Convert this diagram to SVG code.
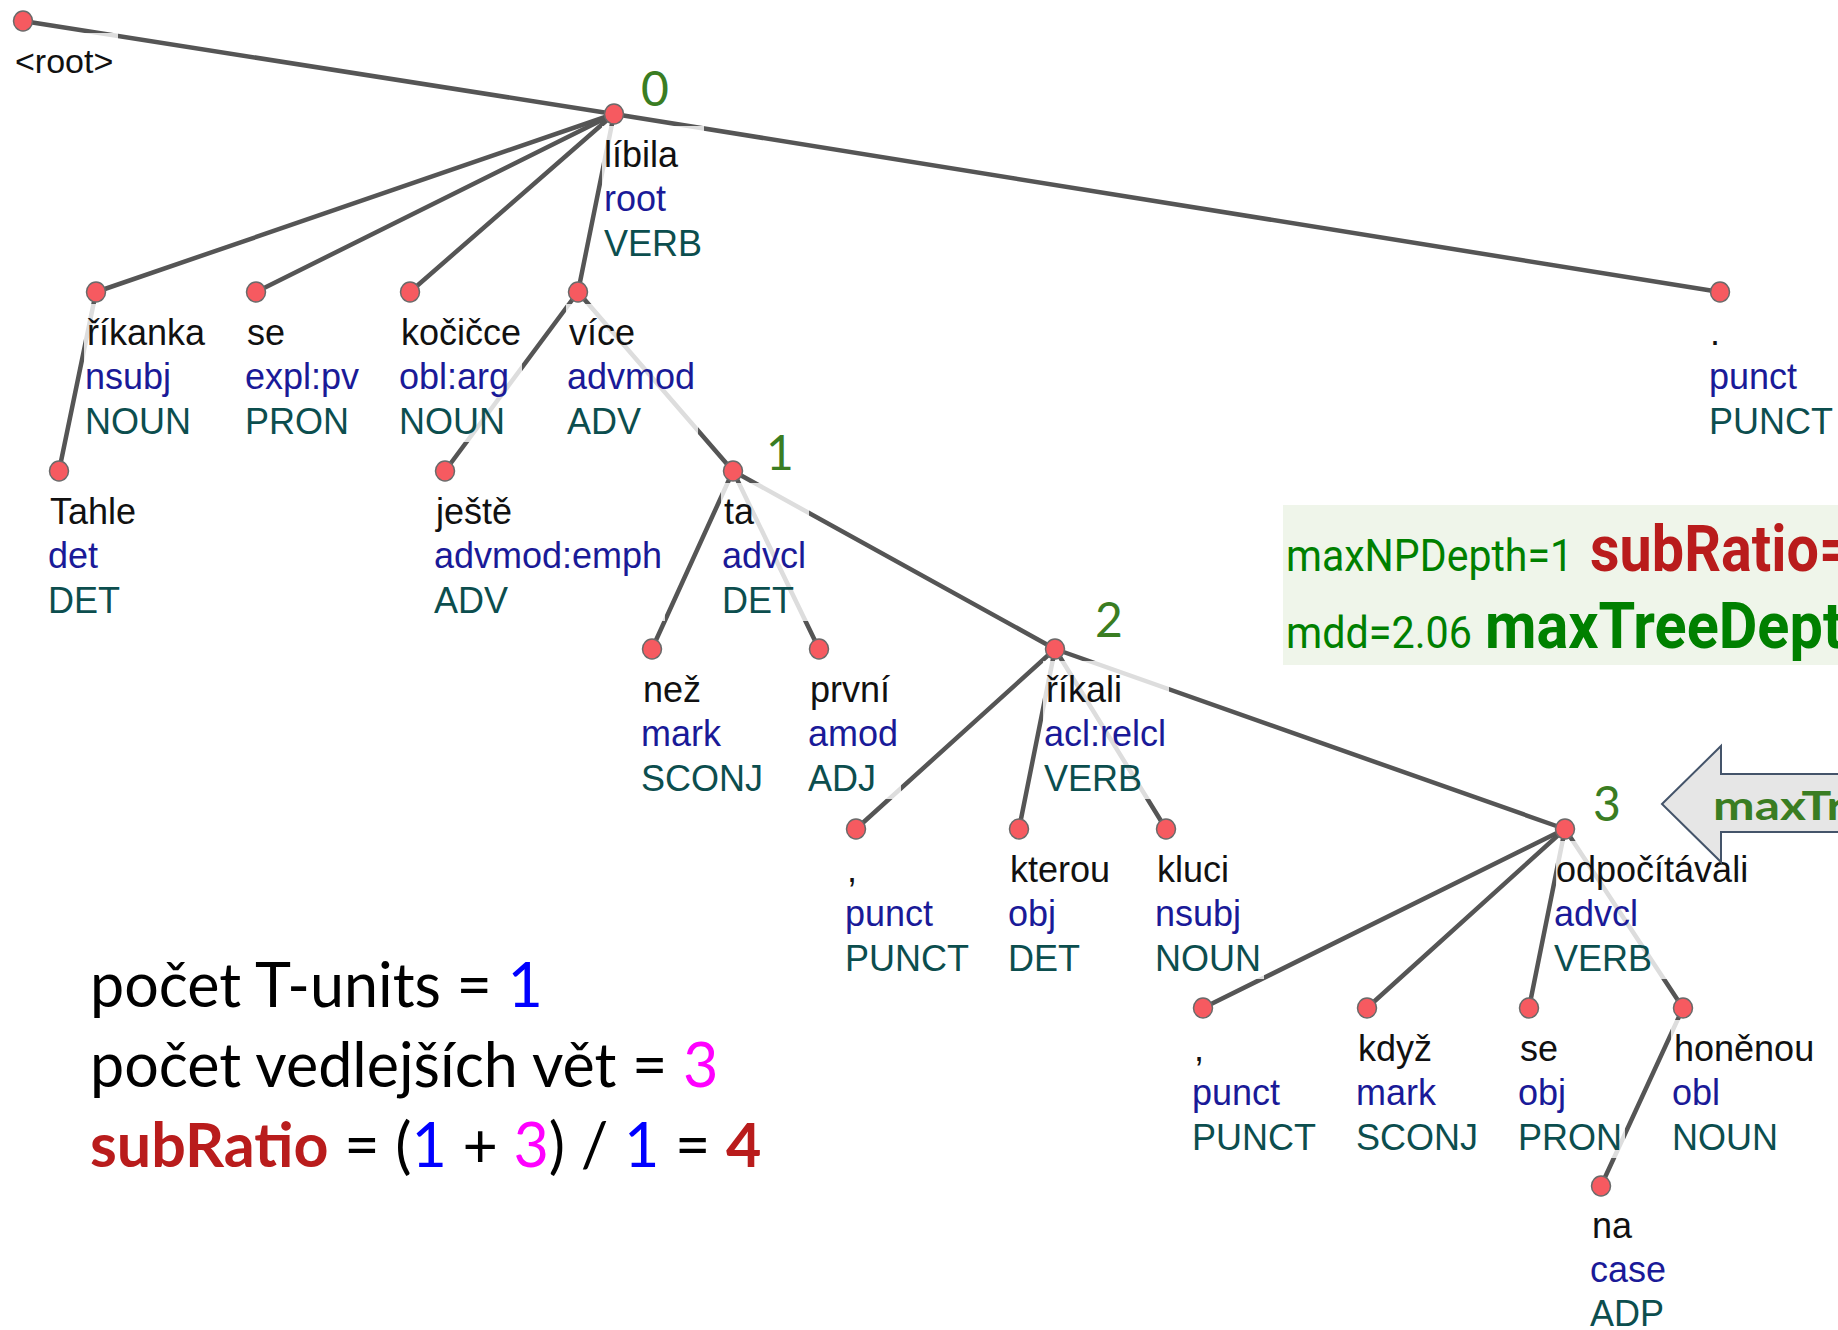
<svg xmlns="http://www.w3.org/2000/svg" width="1838" height="1330" viewBox="0 0 1838 1330">
  <style>
    .edge { stroke: #555; stroke-width: 4.5; stroke-linecap: round; fill: none; }
    .dot { fill: #f65a60; stroke: #6a6a6a; stroke-width: 1.5; }
    .halo { fill: #fff; fill-opacity: 0.8; }
    .lbl { font-family: "Liberation Sans", Arial, sans-serif; font-size: 36px; }
    .form { fill: #111; }
    .rel { fill: #1a1a98; }
    .pos { fill: #0c4e4e; }
    .lvl { font-family: Lato, "Open Sans", sans-serif; font-size: 48px; fill: #3a7d22; }
    .calc { font-family: Lato, "Open Sans", sans-serif; font-size: 61px; fill: #000; }
    .cond { font-family: Roboto, "Liberation Sans", sans-serif; }
  </style>

  <rect x="0" y="0" width="1838" height="1330" fill="#fff"/>

  <!-- dependency edges (head to dependent) -->
  <g id="edges">
    <line class="edge" x1="23" y1="21" x2="614" y2="114"/>
    <line class="edge" x1="614" y1="114" x2="96" y2="292"/>
    <line class="edge" x1="614" y1="114" x2="256" y2="292"/>
    <line class="edge" x1="614" y1="114" x2="410" y2="292"/>
    <line class="edge" x1="614" y1="114" x2="578" y2="292"/>
    <line class="edge" x1="614" y1="114" x2="1720" y2="292"/>
    <line class="edge" x1="96" y1="292" x2="59" y2="471"/>
    <line class="edge" x1="578" y1="292" x2="445" y2="471"/>
    <line class="edge" x1="578" y1="292" x2="733" y2="471"/>
    <line class="edge" x1="733" y1="471" x2="652" y2="649"/>
    <line class="edge" x1="733" y1="471" x2="819" y2="649"/>
    <line class="edge" x1="733" y1="471" x2="1055" y2="649"/>
    <line class="edge" x1="1055" y1="649" x2="856" y2="829"/>
    <line class="edge" x1="1055" y1="649" x2="1019" y2="829"/>
    <line class="edge" x1="1055" y1="649" x2="1166" y2="829"/>
    <line class="edge" x1="1055" y1="649" x2="1565" y2="829"/>
    <line class="edge" x1="1565" y1="829" x2="1203" y2="1008"/>
    <line class="edge" x1="1565" y1="829" x2="1367" y2="1008"/>
    <line class="edge" x1="1565" y1="829" x2="1529" y2="1008"/>
    <line class="edge" x1="1565" y1="829" x2="1683" y2="1008"/>
    <line class="edge" x1="1683" y1="1008" x2="1601" y2="1186"/>
  </g>

  <!-- tree nodes: dot + label block (form / deprel / UPOS) -->
  <g id="n-root" class="lbl">
    <rect class="halo" x="12" y="33" width="106" height="48"/>
    <text class="form" x="15" y="73" font-size="34">&lt;root&gt;</text>
    <ellipse class="dot" cx="23" cy="21" rx="9.5" ry="10"/>
  </g>
  <g id="n-libila" class="lbl">
    <rect class="halo" x="602" y="126" width="102" height="138"/>
    <text class="form" x="604" y="167">líbila</text>
    <text class="rel" x="604" y="211">root</text>
    <text class="pos" x="604" y="256">VERB</text>
    <ellipse class="dot" cx="614" cy="114" rx="9.5" ry="10"/>
  </g>
  <g id="n-rikanka" class="lbl">
    <rect class="halo" x="84" y="304" width="122" height="138"/>
    <text class="form" x="87" y="345">říkanka</text>
    <text class="rel" x="85" y="389">nsubj</text>
    <text class="pos" x="85" y="434">NOUN</text>
    <ellipse class="dot" cx="96" cy="292" rx="9.5" ry="10"/>
  </g>
  <g id="n-se1" class="lbl">
    <rect class="halo" x="244" y="304" width="118" height="138"/>
    <text class="form" x="247" y="345">se</text>
    <text class="rel" x="245" y="389">expl:pv</text>
    <text class="pos" x="245" y="434">PRON</text>
    <ellipse class="dot" cx="256" cy="292" rx="9.5" ry="10"/>
  </g>
  <g id="n-kocicce" class="lbl">
    <rect class="halo" x="398" y="304" width="124" height="138"/>
    <text class="form" x="401" y="345">kočičce</text>
    <text class="rel" x="399" y="389">obl:arg</text>
    <text class="pos" x="399" y="434">NOUN</text>
    <ellipse class="dot" cx="410" cy="292" rx="9.5" ry="10"/>
  </g>
  <g id="n-vice" class="lbl">
    <rect class="halo" x="566" y="304" width="132" height="138"/>
    <text class="form" x="569" y="345">více</text>
    <text class="rel" x="567" y="389">advmod</text>
    <text class="pos" x="567" y="434">ADV</text>
    <ellipse class="dot" cx="578" cy="292" rx="9.5" ry="10"/>
  </g>
  <g id="n-period" class="lbl">
    <rect class="halo" x="1708" y="304" width="128" height="138"/>
    <text class="form" x="1710" y="345">.</text>
    <text class="rel" x="1709" y="389">punct</text>
    <text class="pos" x="1709" y="434">PUNCT</text>
    <ellipse class="dot" cx="1720" cy="292" rx="9.5" ry="10"/>
  </g>
  <g id="n-tahle" class="lbl">
    <rect class="halo" x="47" y="483" width="94" height="138"/>
    <text class="form" x="50" y="524">Tahle</text>
    <text class="rel" x="48" y="568">det</text>
    <text class="pos" x="48" y="613">DET</text>
    <ellipse class="dot" cx="59" cy="471" rx="9.5" ry="10"/>
  </g>
  <g id="n-jeste" class="lbl">
    <rect class="halo" x="433" y="483" width="232" height="138"/>
    <text class="form" x="436" y="524">ještě</text>
    <text class="rel" x="434" y="568">advmod:emph</text>
    <text class="pos" x="434" y="613">ADV</text>
    <ellipse class="dot" cx="445" cy="471" rx="9.5" ry="10"/>
  </g>
  <g id="n-ta" class="lbl">
    <rect class="halo" x="721" y="483" width="88" height="138"/>
    <text class="form" x="724" y="524">ta</text>
    <text class="rel" x="722" y="568">advcl</text>
    <text class="pos" x="722" y="613">DET</text>
    <ellipse class="dot" cx="733" cy="471" rx="9.5" ry="10"/>
  </g>
  <g id="n-nez" class="lbl">
    <rect class="halo" x="640" y="661" width="126" height="138"/>
    <text class="form" x="643" y="702">než</text>
    <text class="rel" x="641" y="746">mark</text>
    <text class="pos" x="641" y="791">SCONJ</text>
    <ellipse class="dot" cx="652" cy="649" rx="9.5" ry="10"/>
  </g>
  <g id="n-prvni" class="lbl">
    <rect class="halo" x="807" y="661" width="94" height="138"/>
    <text class="form" x="810" y="702">první</text>
    <text class="rel" x="808" y="746">amod</text>
    <text class="pos" x="808" y="791">ADJ</text>
    <ellipse class="dot" cx="819" cy="649" rx="9.5" ry="10"/>
  </g>
  <g id="n-rikali" class="lbl">
    <rect class="halo" x="1043" y="661" width="126" height="138"/>
    <text class="form" x="1046" y="702">říkali</text>
    <text class="rel" x="1044" y="746">acl:relcl</text>
    <text class="pos" x="1044" y="791">VERB</text>
    <ellipse class="dot" cx="1055" cy="649" rx="9.5" ry="10"/>
  </g>
  <g id="n-comma1" class="lbl">
    <rect class="halo" x="844" y="841" width="128" height="138"/>
    <text class="form" x="847" y="882">,</text>
    <text class="rel" x="845" y="926">punct</text>
    <text class="pos" x="845" y="971">PUNCT</text>
    <ellipse class="dot" cx="856" cy="829" rx="9.5" ry="10"/>
  </g>
  <g id="n-kterou" class="lbl">
    <rect class="halo" x="1007" y="841" width="104" height="138"/>
    <text class="form" x="1010" y="882">kterou</text>
    <text class="rel" x="1008" y="926">obj</text>
    <text class="pos" x="1008" y="971">DET</text>
    <ellipse class="dot" cx="1019" cy="829" rx="9.5" ry="10"/>
  </g>
  <g id="n-kluci" class="lbl">
    <rect class="halo" x="1154" y="841" width="110" height="138"/>
    <text class="form" x="1157" y="882">kluci</text>
    <text class="rel" x="1155" y="926">nsubj</text>
    <text class="pos" x="1155" y="971">NOUN</text>
    <ellipse class="dot" cx="1166" cy="829" rx="9.5" ry="10"/>
  </g>
  <g id="n-odpocitavali" class="lbl">
    <rect class="halo" x="1556" y="841" width="194" height="138"/>
    <text class="form" x="1556" y="882">odpočítávali</text>
    <text class="rel" x="1554" y="926">advcl</text>
    <text class="pos" x="1554" y="971">VERB</text>
    <ellipse class="dot" cx="1565" cy="829" rx="9.5" ry="10"/>
  </g>
  <g id="n-comma2" class="lbl">
    <rect class="halo" x="1191" y="1020" width="128" height="138"/>
    <text class="form" x="1194" y="1061">,</text>
    <text class="rel" x="1192" y="1105">punct</text>
    <text class="pos" x="1192" y="1150">PUNCT</text>
    <ellipse class="dot" cx="1203" cy="1008" rx="9.5" ry="10"/>
  </g>
  <g id="n-kdyz" class="lbl">
    <rect class="halo" x="1355" y="1020" width="126" height="138"/>
    <text class="form" x="1358" y="1061">když</text>
    <text class="rel" x="1356" y="1105">mark</text>
    <text class="pos" x="1356" y="1150">SCONJ</text>
    <ellipse class="dot" cx="1367" cy="1008" rx="9.5" ry="10"/>
  </g>
  <g id="n-se2" class="lbl">
    <rect class="halo" x="1517" y="1020" width="108" height="138"/>
    <text class="form" x="1520" y="1061">se</text>
    <text class="rel" x="1518" y="1105">obj</text>
    <text class="pos" x="1518" y="1150">PRON</text>
    <ellipse class="dot" cx="1529" cy="1008" rx="9.5" ry="10"/>
  </g>
  <g id="n-honenou" class="lbl">
    <rect class="halo" x="1671" y="1020" width="144" height="138"/>
    <text class="form" x="1674" y="1061">honěnou</text>
    <text class="rel" x="1672" y="1105">obl</text>
    <text class="pos" x="1672" y="1150">NOUN</text>
    <ellipse class="dot" cx="1683" cy="1008" rx="9.5" ry="10"/>
  </g>
  <g id="n-na" class="lbl">
    <rect class="halo" x="1589" y="1198" width="80" height="132"/>
    <text class="form" x="1592" y="1238">na</text>
    <text class="rel" x="1590" y="1282">case</text>
    <text class="pos" x="1590" y="1326">ADP</text>
    <ellipse class="dot" cx="1601" cy="1186" rx="9.5" ry="10"/>
  </g>

  <!-- clause depth markers -->
  <g id="depth-marks" class="lvl">
    <text x="641" y="106">0</text>
    <text x="766" y="470">1</text>
    <text x="1095" y="637">2</text>
    <text x="1593" y="821">3</text>
  </g>

  <!-- metric summary box -->
  <g id="metrics">
    <rect x="1283" y="505" width="560" height="160" fill="#eff5ea"/>
    <text class="cond" x="1286" y="571" font-size="44" fill="#008000" textLength="287" lengthAdjust="spacingAndGlyphs">maxNPDepth=1</text>
    <text class="cond" x="1590" y="571" font-size="65" font-weight="bold" fill="#b91c1c" textLength="262" lengthAdjust="spacingAndGlyphs">subRatio=</text>
    <text class="cond" x="1286" y="648" font-size="44" fill="#008000" textLength="186" lengthAdjust="spacingAndGlyphs">mdd=2.06</text>
    <text class="cond" x="1485" y="648" font-size="65" font-weight="bold" fill="#008000" textLength="358" lengthAdjust="spacingAndGlyphs">maxTreeDept</text>
  </g>

  <!-- pointer to the deepest clause -->
  <g id="depth-arrow">
    <polygon points="1662,804 1721,746 1721,774 1850,774 1850,832 1721,832 1721,862" fill="#e6e6e6" stroke="#44546a" stroke-width="2"/>
    <text x="1713" y="820" font-family="Lato, 'Open Sans', sans-serif" font-size="40" font-weight="bold" fill="#3a7d22" textLength="132" lengthAdjust="spacingAndGlyphs">maxTr</text>
  </g>

  <!-- subordination ratio worked example -->
  <g id="calculation" class="calc">
    <text x="90" y="1007">počet T-units = <tspan fill="#0000ff">1</tspan></text>
    <text x="90" y="1087">počet vedlejších vět = <tspan fill="#ff00ff">3</tspan></text>
    <text x="90" y="1167"><tspan fill="#b91c1c" font-weight="bold">subRatio</tspan> = (<tspan fill="#0000ff">1</tspan> + <tspan fill="#ff00ff">3</tspan>) / <tspan fill="#0000ff">1</tspan> = <tspan fill="#b91c1c" font-weight="bold">4</tspan></text>
  </g>
</svg>
